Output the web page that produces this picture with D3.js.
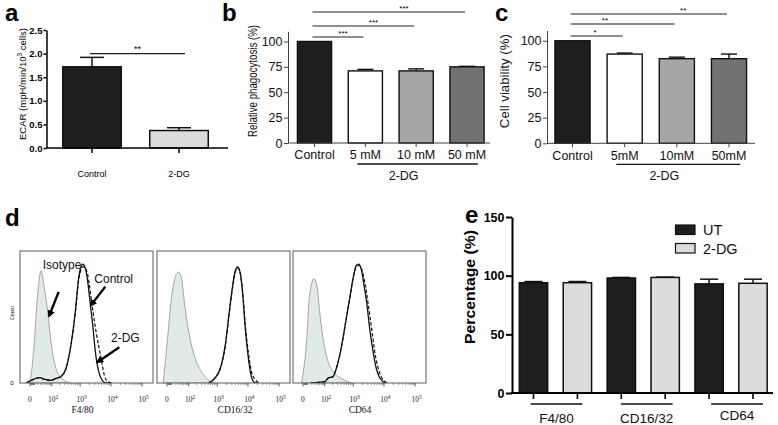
<!DOCTYPE html>
<html>
<head>
<meta charset="utf-8">
<script src="https://cdn.jsdelivr.net/npm/d3@7"></script>
<style>
  body { margin: 0; background: #fff; }
  svg { display: block; font-family: Arial, "Liberation Sans", Helvetica, sans-serif; }
</style>
</head>
<body>
<div id="plot"></div>
<script>
"use strict";

// ---- panel a: ECAR ----
const ecarCats = ["Control", "2-DG"];
const ecarVals = [1.72, 0.37];
const ecarErrTop = [1.92, 0.43];
const ecarTicks = [0, 0.5, 1.0, 1.5, 2.0, 2.5];
const ecarFills = ["#1e1e1e", "#dcdcdc"];

// ---- panel b: relative phagocytosis ----
const phagoCats = ["Control", "5 mM", "10 mM", "50 mM"];
const phagoVals = [100, 71, 71, 75];
const phagoErrTop = [100, 72.5, 73, 75.5];
const phagoStars = ["***", "***", "***"];

// ---- panel c: cell viability ----
const viaCats = ["Control", "5mM", "10mM", "50mM"];
const viaVals = [100, 87, 82.5, 82.5];
const viaErrTop = [100, 88, 84, 87];
const viaStars = ["*", "**", "**"];

const pctTicks = [0, 25, 50, 75, 100];
const doseFills = ["#1e1e1e", "#ffffff", "#a6a6a6", "#727272"];

// ---- panel d: flow histograms, [intensity, % of max] ----
const flowMarkers = ["F4/80", "CD16/32", "CD64"];
const flowTicks = [0, 1e2, 1e3, 1e4, 1e5];

const f480Iso = [[-6, 0], [-1, 1], [9, 29], [19, 67], [32, 85], [47, 72], [68, 54], [93, 31], [146, 11], [223, 4.5], [335, 1], [495, 0]];
const f480Ctrl = [[-8, 0], [9, 3], [24, 4], [57, 2.5], [93, 2], [146, 3.5], [223, 5], [335, 11], [495, 29], [690, 54],
  [895, 80], [1066, 88], [1213, 90], [1475, 87], [1766, 77], [2098, 62], [2570, 44], [3120, 24], [4020, 8.6], [5140, 2.3], [6100, 0.5], [10000, 0]];
const f480Dg = [[-8, 0], [9, 3], [24, 4], [57, 2.5], [93, 2], [146, 3.5], [223, 5], [335, 11], [495, 29], [690, 53],
  [895, 78], [1066, 86], [1213, 88], [1475, 87], [1766, 82], [2440, 59], [3290, 39], [4770, 19], [6100, 6], [7850, 1], [11640, 0]];

const cd16Iso = [[-8, 0], [0, 29], [11, 67], [24, 82], [34, 84], [47, 80], [68, 59], [93, 42], [134, 27], [205, 15], [309, 8], [523, 2], [868, 0]];
const cd16Ctrl = [[523, 0], [868, 4], [1268, 11], [1848, 29], [2493, 54], [3215, 74], [3900, 85], [4665, 88], [5660, 83],
  [6765, 67], [8210, 41], [10030, 21], [12530, 6], [15310, 1], [19550, 0]];
const cd16Dg = [[523, 0], [868, 4], [1268, 11], [1848, 28], [2493, 53], [3215, 73], [3900, 84], [4665, 87], [5660, 83],
  [6765, 69], [8210, 44], [10570, 21], [13500, 7], [18160, 2], [22190, 0]];

const cd64Iso = [[-3, 0], [7, 29], [16, 67], [31, 79], [47, 72], [61, 54], [85, 34], [115, 21], [155, 13], [236, 7], [401, 3.6], [675, 1], [868, 0]];
const cd64Ctrl = [[20, 0], [51, 0.5], [100, 1], [134, 3.6], [205, 4.8], [269, 11], [353, 21], [458, 34], [592, 49], [769, 64],
  [988, 79], [1268, 89], [1520, 90], [1848, 86], [2262, 74], [2833, 59], [3463, 41], [4430, 24], [5660, 11], [7290, 4], [9310, 1], [11890, 0]];
const cd64Dg = [[20, 0], [51, 0.5], [100, 1], [134, 3.6], [205, 4.8], [269, 11], [353, 21], [458, 34], [592, 49], [769, 64],
  [988, 79], [1268, 88], [1520, 89], [1848, 87], [2493, 74], [3215, 57], [4110, 39], [5255, 21], [6765, 10], [8640, 3.6], [11040, 1], [13500, 0]];

// arrow annotations in the F4/80 plot: label, [x, y] of text, arrow tail, arrow tip
const flowNotes = [
  { text: "Isotype", at: [39, 86], tail: [184, 69], tip: [79, 51] },
  { text: "Control", at: [2895, 76], tail: [6570, 73], tip: [2262, 59] },
  { text: "2-DG", at: [10030, 31], tail: [18560, 27], tip: [3730, 16] }
];

// ---- panel e: surface marker percentages ----
const surfMarkers = ["F4/80", "CD16/32", "CD64"];
const treatGroups = ["UT", "2-DG"];
const utVals = [94, 98, 93];
const utErrTop = [95, 98.5, 97];
const dgVals = [94, 98.5, 93.5];
const dgErrTop = [95, 98.8, 97];
const eTicks = [0, 50, 100, 150];
const treatFills = ["#1e1e1e", "#dcdcdc"];

const svg = d3.select("#plot").append("svg")
  .attr("width", 778)
  .attr("height", 425)
  .style("background", "#fff");

// band scale whose first/last band centres sit on c0 / c1
function centeredBand(domain, c0, c1, pad) {
  const step = (c1 - c0) / (domain.length - 1);
  return d3.scaleBand().domain(domain)
    .range([c0 - step / 2, c1 + step / 2])
    .paddingInner(pad).paddingOuter(pad / 2);
}

function drawBars(g, x, y, cats, vals, errTop, fills, capW, sw) {
  const bars = g.append("g");
  bars.selectAll("rect").data(cats).enter().append("rect")
    .attr("x", d => x(d) + sw / 2)
    .attr("y", (d, i) => y(vals[i]))
    .attr("width", x.bandwidth() - sw)
    .attr("height", (d, i) => y(0) - y(vals[i]))
    .attr("fill", (d, i) => fills[i])
    .attr("stroke", "#111")
    .attr("stroke-width", sw);
  cats.forEach((c, i) => {
    if (errTop[i] - vals[i] < 0.001) return;
    const cx = x(c) + x.bandwidth() / 2;
    bars.append("line").attr("x1", cx).attr("x2", cx)
      .attr("y1", y(vals[i])).attr("y2", y(errTop[i]))
      .attr("stroke", "#111").attr("stroke-width", sw);
    bars.append("line").attr("x1", cx - capW / 2).attr("x2", cx + capW / 2)
      .attr("y1", y(errTop[i])).attr("y2", y(errTop[i]))
      .attr("stroke", "#111").attr("stroke-width", sw);
  });
}

function panelLetter(t, x, y) {
  svg.append("text").attr("x", x).attr("y", y)
    .style("font-size", "24px").style("font-weight", "bold").text(t);
}

function vLabel(t, x, y, size, len, weight) {
  return svg.append("text")
    .attr("transform", "translate(" + x + "," + y + ") rotate(-90)")
    .attr("text-anchor", "middle")
    .attr("textLength", len).attr("lengthAdjust", "spacingAndGlyphs")
    .style("font-size", size + "px")
    .style("font-weight", weight || "normal")
    .text(t);
}

// ================= panel a =================
(function () {
  const y = d3.scaleLinear().domain([0, 2.5]).range([148, 30]);
  const x = centeredBand(ecarCats, 92, 179, 0.31);
  const g = svg.append("g");
  drawBars(g, x, y, ecarCats, ecarVals, ecarErrTop, ecarFills, 24, 1.5);

  const ya = svg.append("g").attr("transform", "translate(46.5,0)")
    .call(d3.axisLeft(y).tickValues(ecarTicks).tickFormat(d3.format(".1f")).tickSize(3).tickSizeOuter(0).tickPadding(1));
  ya.select(".domain").attr("stroke-width", 1.5);
  ya.selectAll(".tick line").attr("stroke-width", 1.5);
  ya.selectAll("text").style("font-size", "9.5px").style("font-weight", "bold").attr("font-family", "Arial, sans-serif");

  const xa = svg.append("g").attr("transform", "translate(0,148)")
    .call(d3.axisBottom(x).tickSize(5).tickSizeOuter(0).tickPadding(18));
  xa.select(".domain").remove();
  xa.selectAll(".tick line").attr("stroke-width", 1.5);
  xa.selectAll("text").style("font-size", "9px").attr("font-family", "Arial, sans-serif");
  svg.append("line").attr("x1", 46.5).attr("x2", 228).attr("y1", 148).attr("y2", 148)
    .attr("stroke", "#000").attr("stroke-width", 1.5);

  // significance
  const x0 = x("Control") + x.bandwidth() / 2 - 2, x1 = x("2-DG") + x.bandwidth() / 2 + 6;
  svg.append("line").attr("x1", x0).attr("x2", x1).attr("y1", y(2.0)).attr("y2", y(2.0))
    .attr("stroke", "#222").attr("stroke-width", 1.2);
  svg.append("text").attr("x", (x0 + x1) / 2).attr("y", y(2.0) - 1.5).attr("text-anchor", "middle")
    .style("font-size", "9px").text("**");

  const lab = vLabel("", 25.5, 84, 9.5, 112);
  lab.append("tspan").text("ECAR (mpH/min/10");
  lab.append("tspan").attr("dy", -3.5).style("font-size", "6.5px").text("3");
  lab.append("tspan").attr("dy", 3.5).text(" cells)");

  panelLetter("a", 5, 21);
})();

// ================= panels b and c =================
function dosePanel(cats, vals, errTop, stars, starFrac, levels, yRange, c0, c1, axisX, axisEnd, yLab, labX, labLen, letterX) {
  const y = d3.scaleLinear().domain([0, 110]).range(yRange);
  const x = centeredBand(cats, c0, c1, 0.3);
  const g = svg.append("g");
  drawBars(g, x, y, cats, vals, errTop, doseFills, 16, 1.4);

  const ya = svg.append("g").attr("transform", "translate(" + axisX + ",0)")
    .call(d3.axisLeft(y).tickValues(pctTicks).tickSize(4).tickSizeOuter(0).tickPadding(1.5));
  ya.select(".domain").attr("stroke", "#444");
  ya.selectAll(".tick line").attr("stroke", "#444");
  ya.selectAll("text").style("font-size", "12.5px").attr("font-family", "Arial, sans-serif").attr("fill", "#111");

  const xa = svg.append("g").attr("transform", "translate(0," + yRange[0] + ")")
    .call(d3.axisBottom(x).tickSize(4).tickSizeOuter(0).tickPadding(3.5));
  xa.select(".domain").remove();
  xa.selectAll(".tick line").attr("stroke", "#444");
  xa.selectAll("text").style("font-size", "12.5px").attr("font-family", "Arial, sans-serif").attr("fill", "#111");
  svg.append("line").attr("x1", axisX).attr("x2", axisEnd).attr("y1", yRange[0]).attr("y2", yRange[0])
    .attr("stroke", "#444");

  // significance bars from Control to each dose
  const cx = d => x(d) + x.bandwidth() / 2;
  stars.forEach((s, i) => {
    const x0 = cx(cats[0]) - 2, x1 = cx(cats[i + 1]) - 2;
    svg.append("line").attr("x1", x0).attr("x2", x1).attr("y1", levels[i]).attr("y2", levels[i])
      .attr("stroke", "#222").attr("stroke-width", 1.2);
    svg.append("text").attr("x", x0 + starFrac[i] * (x1 - x0)).attr("y", levels[i] - 1.5)
      .attr("text-anchor", "middle").style("font-size", "8px").text(s);
  });

  // 2-DG group line
  const gx0 = x(cats[1]) + 10, gx1 = x(cats[3]) + x.bandwidth() - 7;
  svg.append("line").attr("x1", gx0).attr("x2", gx1).attr("y1", yRange[0] + 21).attr("y2", yRange[0] + 21)
    .attr("stroke", "#111").attr("stroke-width", 1.3);
  svg.append("text").attr("x", (gx0 + gx1) / 2 - 14).attr("y", yRange[0] + 36.5).attr("text-anchor", "middle")
    .style("font-size", "12.5px").attr("fill", "#111").text("2-DG");

  vLabel(yLab, labX, (yRange[0] + 31) / 2 - 6, 12, labLen).attr("fill", "#111");
  panelLetter(yLab.startsWith("Rel") ? "b" : "c", letterX, 21);
}

dosePanel(phagoCats, phagoVals, phagoErrTop, phagoStars, [0.6, 0.6, 0.6], [37, 26, 12],
  [143, 31.3], 314.5, 467, 288, 490, "Relative phagocytosis (%)", 256.5, 112, 222);
dosePanel(viaCats, viaVals, viaErrTop, viaStars, [0.47, 0.33, 0.72], [36, 24, 14],
  [143.3, 30.5], 572.5, 729, 547, 755, "Cell viability (%)", 508.5, 94, 495);

// ================= panel d =================
const flowLefts = [20, 157, 293];
const flowLabelOff = [62.5, 78, 67];
const flowSets = [[f480Iso, f480Ctrl, f480Dg], [cd16Iso, cd16Ctrl, cd16Dg], [cd64Iso, cd64Ctrl, cd64Dg]];
const boxTop = 251, boxW = 133, boxH = 132;

const defs = svg.append("defs");
defs.append("marker").attr("id", "ah")
  .attr("viewBox", "0 0 10 10").attr("refX", 7).attr("refY", 5)
  .attr("markerWidth", 7.5).attr("markerHeight", 7.5).attr("markerUnits", "userSpaceOnUse")
  .attr("orient", "auto")
  .append("path").attr("d", "M0,0 L10,5 L0,10 z").attr("fill", "#000");

flowSets.forEach((set, i) => {
  const L = flowLefts[i];
  const x = d3.scaleSymlog().constant(25).domain([-27.4, 225000]).range([L, L + boxW]);
  const y = d3.scaleLinear().domain([0, 100]).range([boxTop + boxH, boxTop]);

  defs.append("clipPath").attr("id", "clip" + i)
    .append("rect").attr("x", L).attr("y", boxTop).attr("width", boxW).attr("height", boxH);
  const g = svg.append("g").attr("clip-path", "url(#clip" + i + ")");

  const area = d3.area().x(d => x(d[0])).y0(y(0)).y1(d => y(d[1])).curve(d3.curveMonotoneX);
  const line = d3.line().x(d => x(d[0])).y(d => y(d[1])).curve(d3.curveMonotoneX);

  g.append("path").attr("d", area(set[0])).attr("fill", "#e0ebe7")
    .attr("stroke", "#9c9c9c").attr("stroke-width", 0.9);
  g.append("path").attr("d", line(set[1])).attr("fill", "none")
    .attr("stroke", "#111").attr("stroke-width", 1.3);
  g.append("path").attr("d", line(set[2])).attr("fill", "none")
    .attr("stroke", "#111").attr("stroke-width", 1.2).attr("stroke-dasharray", "3.5,2");

  svg.append("rect").attr("x", L).attr("y", boxTop).attr("width", boxW).attr("height", boxH)
    .attr("fill", "none").attr("stroke", "#5a5a5a").attr("stroke-width", 1);

  // biexponential-like axis ticks
  const minor = [];
  [1, 10, 100, 1000, 10000].forEach(p => { for (let k = 2; k <= 9; k++) minor.push(k * p); });
  minor.push(10);
  svg.append("g").selectAll("line").data(minor).enter().append("line")
    .attr("x1", d => x(d)).attr("x2", d => x(d))
    .attr("y1", boxTop + boxH).attr("y2", boxTop + boxH + 2)
    .attr("stroke", "#555").attr("stroke-width", 0.6);
  svg.append("g").selectAll("line").data(flowTicks).enter().append("line")
    .attr("x1", d => x(d)).attr("x2", d => x(d))
    .attr("y1", boxTop + boxH).attr("y2", boxTop + boxH + 3.5)
    .attr("stroke", "#333").attr("stroke-width", 0.8);

  flowTicks.forEach(t => {
    const tx = svg.append("text").attr("x", x(t)).attr("y", 402).attr("text-anchor", "middle")
      .attr("font-family", "'Liberation Serif', 'Times New Roman', serif").style("font-size", "7.5px").attr("fill", "#222");
    if (t === 0) { tx.text("0"); return; }
    tx.attr("x", x(t) + 1.5);
    tx.append("tspan").text("10");
    tx.append("tspan").attr("dy", -3).style("font-size", "5.5px").text(Math.round(Math.log10(t)));
  });

  svg.append("text").attr("x", L + flowLabelOff[i]).attr("y", 413).attr("text-anchor", "middle")
    .attr("font-family", "'Liberation Serif', 'Times New Roman', serif").style("font-size", "9.5px")
    .attr("fill", "#111").text(flowMarkers[i]);

  if (i === 0) {
    flowNotes.forEach(n => {
      svg.append("line")
        .attr("x1", x(n.tail[0])).attr("y1", y(n.tail[1]))
        .attr("x2", x(n.tip[0])).attr("y2", y(n.tip[1]))
        .attr("stroke", "#000").attr("stroke-width", 2.4).attr("marker-end", "url(#ah)");
      svg.append("text").attr("x", x(n.at[0])).attr("y", y(n.at[1]))
        .style("font-size", "12px").attr("fill", "#111").text(n.text);
    });
    svg.append("text").attr("x", 12).attr("y", 385).attr("text-anchor", "middle")
      .style("font-size", "6px").text("0");
    vLabel("Count", 14, 313, 5.5, 14);
  }
});
panelLetter("d", 5, 226);

// ================= panel e =================
(function () {
  const combos = [];
  surfMarkers.forEach(m => treatGroups.forEach(t => combos.push(m + "|" + t)));
  const vals = [], tops = [], fills = [];
  surfMarkers.forEach((m, i) => {
    vals.push(utVals[i], dgVals[i]);
    tops.push(utErrTop[i], dgErrTop[i]);
    fills.push(treatFills[0], treatFills[1]);
  });
  const y = d3.scaleLinear().domain([0, 150]).range([393, 217]);
  const x = centeredBand(combos, 533.5, 753, 0.32);
  drawBars(svg.append("g"), x, y, combos, vals, tops, fills, 18, 1.5);

  const ya = svg.append("g").attr("transform", "translate(512,0)")
    .call(d3.axisLeft(y).tickValues(eTicks).tickSize(6).tickSizeOuter(0).tickPadding(1.5));
  ya.select(".domain").attr("stroke-width", 2);
  ya.selectAll(".tick line").attr("stroke-width", 2);
  ya.selectAll("text").style("font-size", "12.5px").style("font-weight", "bold").attr("font-family", "Arial, sans-serif");

  const xa = svg.append("g").attr("transform", "translate(0,393)")
    .call(d3.axisBottom(x).tickSize(6).tickSizeOuter(0).tickFormat(""));
  xa.select(".domain").remove();
  xa.selectAll(".tick line").attr("stroke-width", 1.6);
  svg.append("line").attr("x1", 511).attr("x2", 773).attr("y1", 393).attr("y2", 393)
    .attr("stroke", "#000").attr("stroke-width", 2);

  // marker group underlines and names
  surfMarkers.forEach((m, i) => {
    const a = x(m + "|UT"), b = x(m + "|2-DG") + x.bandwidth();
    const shift = [0, 2.5, 5][i];
    const x0 = a + 12 + shift, x1 = b - 10 + shift;
    svg.append("line").attr("x1", x0).attr("x2", x1).attr("y1", 404).attr("y2", 404)
      .attr("stroke", "#111").attr("stroke-width", 1.5);
    svg.append("text").attr("x", (x0 + x1) / 2).attr("y", i === 2 ? 420 : 423).attr("text-anchor", "middle")
      .style("font-size", "13.5px").attr("fill", "#111").text(m);
  });

  // legend
  treatGroups.forEach((t, i) => {
    svg.append("rect").attr("x", 675.5).attr("y", 225 + i * 18.5).attr("width", 19.5).attr("height", 9.5)
      .attr("fill", treatFills[i]).attr("stroke", "#111").attr("stroke-width", 1.2);
    svg.append("text").attr("x", 703).attr("y", 230 + i * 18.5).attr("dy", "0.36em")
      .style("font-size", "14.5px").attr("fill", "#111").text(t);
  });

  vLabel("Percentage (%)", 475, 287, 14.5, 114, "bold");
  panelLetter("e", 465, 223);
})();
</script>
</body>
</html>
